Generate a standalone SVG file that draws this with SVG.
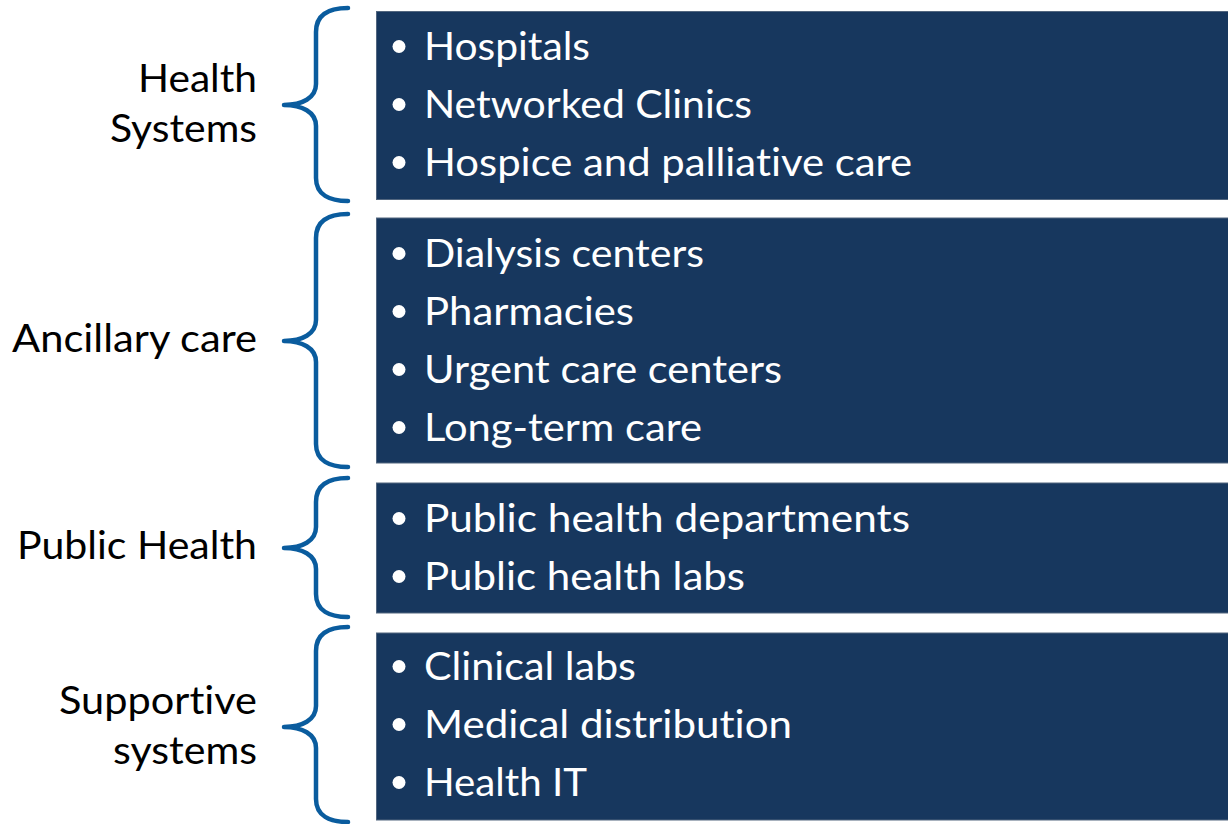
<svg xmlns="http://www.w3.org/2000/svg" width="1228" height="824" viewBox="0 0 1228 824">
<style>
.box{fill:#17375e;stroke:#52667f;stroke-width:1}
.brace{fill:none;stroke:#0a5c9e;stroke-width:4.5;stroke-linecap:round;stroke-linejoin:round}
.item{font-family:Lato,"Open Sans","Liberation Sans",sans-serif;font-size:38px;fill:#ffffff;font-variant-ligatures:none;font-feature-settings:"liga" 0,"dlig" 0}
.label{font-family:Lato,"Open Sans","Liberation Sans",sans-serif;font-size:38px;fill:#000000;text-anchor:end;font-variant-ligatures:none;font-feature-settings:"liga" 0,"dlig" 0}
.dot{fill:#ffffff}
</style>
<rect width="1228" height="824" fill="#ffffff"/>
<g id="connectors">
<path class="brace" d="M348,8 C330,8 316,14 316,32 L316,84 C316,98 302,105 284,105 C302,105 316,112 316,126 L316,178 C316,195 330,201 348,201"/>
<path class="brace" d="M348,214 C330,214 316,220 316,238 L316,320 C316,334 302,341 284,341 C302,341 316,348 316,362 L316,444 C316,461 330,467 348,467"/>
<path class="brace" d="M348,478 C330,478 316,484 316,502 L316,527 C316,541 302,548 284,548 C302,548 316,555 316,569 L316,594 C316,611 330,617 348,617"/>
<path class="brace" d="M348,627 C330,627 316,633 316,651 L316,706 C316,720 302,727 284,727 C302,727 316,734 316,748 L316,799 C316,816 330,822 348,822"/>
</g>
<g id="health-systems">
<text class="label" x="257" y="92" textLength="119" lengthAdjust="spacingAndGlyphs">Health</text>
<text class="label" x="257" y="142" textLength="147" lengthAdjust="spacingAndGlyphs">Systems</text>
<rect class="box" x="376.5" y="11.5" width="860" height="188"/>
<circle class="dot" cx="399" cy="46.5" r="6.5"/>
<text class="item" x="424" y="60" textLength="166" lengthAdjust="spacingAndGlyphs">Hospitals</text>
<circle class="dot" cx="399" cy="104.5" r="6.5"/>
<text class="item" x="424" y="118" textLength="328" lengthAdjust="spacingAndGlyphs">Networked Clinics</text>
<circle class="dot" cx="399" cy="162.5" r="6.5"/>
<text class="item" x="424" y="176" textLength="488" lengthAdjust="spacingAndGlyphs">Hospice and palliative care</text>
</g>
<g id="ancillary-care">
<text class="label" x="257" y="352" textLength="245" lengthAdjust="spacingAndGlyphs">Ancillary care</text>
<rect class="box" x="376.5" y="218" width="860" height="245"/>
<circle class="dot" cx="399" cy="253.5" r="6.5"/>
<text class="item" x="424" y="267" textLength="280" lengthAdjust="spacingAndGlyphs">Dialysis centers</text>
<circle class="dot" cx="399" cy="311.5" r="6.5"/>
<text class="item" x="424" y="325" textLength="210" lengthAdjust="spacingAndGlyphs">Pharmacies</text>
<circle class="dot" cx="399" cy="369.5" r="6.5"/>
<text class="item" x="424" y="383" textLength="358" lengthAdjust="spacingAndGlyphs">Urgent care centers</text>
<circle class="dot" cx="399" cy="427.5" r="6.5"/>
<text class="item" x="424" y="441" textLength="278" lengthAdjust="spacingAndGlyphs">Long-term care</text>
</g>
<g id="public-health">
<text class="label" x="257" y="559" textLength="240" lengthAdjust="spacingAndGlyphs">Public Health</text>
<rect class="box" x="376.5" y="483" width="860" height="130"/>
<circle class="dot" cx="399" cy="518.5" r="6.5"/>
<text class="item" x="424" y="532" textLength="486" lengthAdjust="spacingAndGlyphs">Public health departments</text>
<circle class="dot" cx="399" cy="576.5" r="6.5"/>
<text class="item" x="424" y="590" textLength="321" lengthAdjust="spacingAndGlyphs">Public health labs</text>
</g>
<g id="supportive-systems">
<text class="label" x="257" y="714" textLength="198" lengthAdjust="spacingAndGlyphs">Supportive</text>
<text class="label" x="257" y="764" textLength="144" lengthAdjust="spacingAndGlyphs">systems</text>
<rect class="box" x="376.5" y="633" width="860" height="187"/>
<circle class="dot" cx="399" cy="666.5" r="6.5"/>
<text class="item" x="424" y="680" textLength="212" lengthAdjust="spacingAndGlyphs">Clinical labs</text>
<circle class="dot" cx="399" cy="724.5" r="6.5"/>
<text class="item" x="424" y="738" textLength="368" lengthAdjust="spacingAndGlyphs">Medical distribution</text>
<circle class="dot" cx="399" cy="782.5" r="6.5"/>
<text class="item" x="424" y="796" textLength="163" lengthAdjust="spacingAndGlyphs">Health IT</text>
</g>
</svg>
